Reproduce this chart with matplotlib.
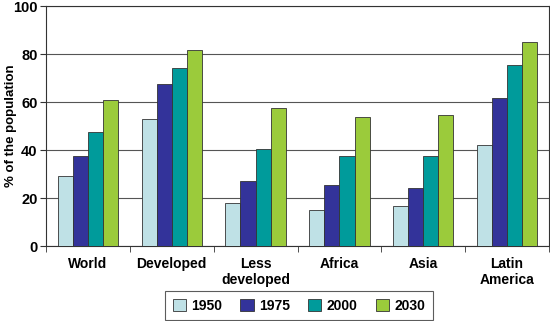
import matplotlib.pyplot as plt
import numpy as np

plt.rcParams['font.family'] = ['Liberation Sans', 'DejaVu Sans']
plt.rcParams['font.weight'] = 'bold'

regions = ['World', 'Developed', 'Less\ndeveloped', 'Africa', 'Asia', 'Latin\nAmerica']
years = ['1950', '1975', '2000', '2030']
v1950 = [29.2, 52.8, 18.0, 15.0, 16.7, 42.0]
v1975 = [37.3, 67.3, 27.0, 25.4, 24.2, 61.5]
v2000 = [47.3, 74.0, 40.6, 37.4, 37.4, 75.6]
v2030 = [60.8, 81.8, 57.3, 53.6, 54.6, 84.8]
colors = ['#bfe1e6', '#33339a', '#009b9b', '#9bcb3b']

fig = plt.figure(figsize=(5.5, 3.21), dpi=100)
ax = fig.add_axes([46/550, 1-246/321, 503/550, 240/321])

x = np.arange(len(regions))
w = 0.18
for i, (vals, yr) in enumerate(zip([v1950, v1975, v2000, v2030], years)):
    ax.bar(x + (i - 1.5) * w, vals, w, color=colors[i], edgecolor='#333333',
           linewidth=0.6, label=yr, zorder=3)

ax.set_xlim(-0.5, len(regions) - 0.5)
ax.set_ylim(0, 100)
ax.set_yticks(range(0, 101, 20))
ax.yaxis.grid(True, color='#555555', linewidth=0.8, zorder=0)
ax.set_xticks(x)
ax.set_xticklabels(regions, fontsize=10, fontweight='bold')
ax.set_xticks(np.arange(-0.5, len(regions)), minor=True)
ax.tick_params(axis='x', which='major', length=0, pad=8)
ax.tick_params(axis='x', which='minor', length=4, color='#333333')
ax.tick_params(axis='y', labelsize=10.5, length=4, color='#333333', pad=2)
for lab in ax.get_yticklabels():
    lab.set_fontweight('bold')
for s in ax.spines.values():
    s.set_color('#333333')
    s.set_linewidth(0.8)
ax.set_ylabel('% of the population', fontsize=9.5, fontweight='bold')
ax.yaxis.set_label_coords(-0.058, 0.5)

leg = ax.legend(loc='upper center', bbox_to_anchor=(0.503, -0.188), ncol=4,
                frameon=True, fancybox=False, edgecolor='#333333', fontsize=10,
                handlelength=0.95, handleheight=0.95, columnspacing=1.3,
                borderpad=0.55, handletextpad=0.4, borderaxespad=0)
leg.get_frame().set_linewidth(0.8)
for t in leg.get_texts():
    t.set_fontweight('bold')

fig.savefig('out.png', dpi=100)
